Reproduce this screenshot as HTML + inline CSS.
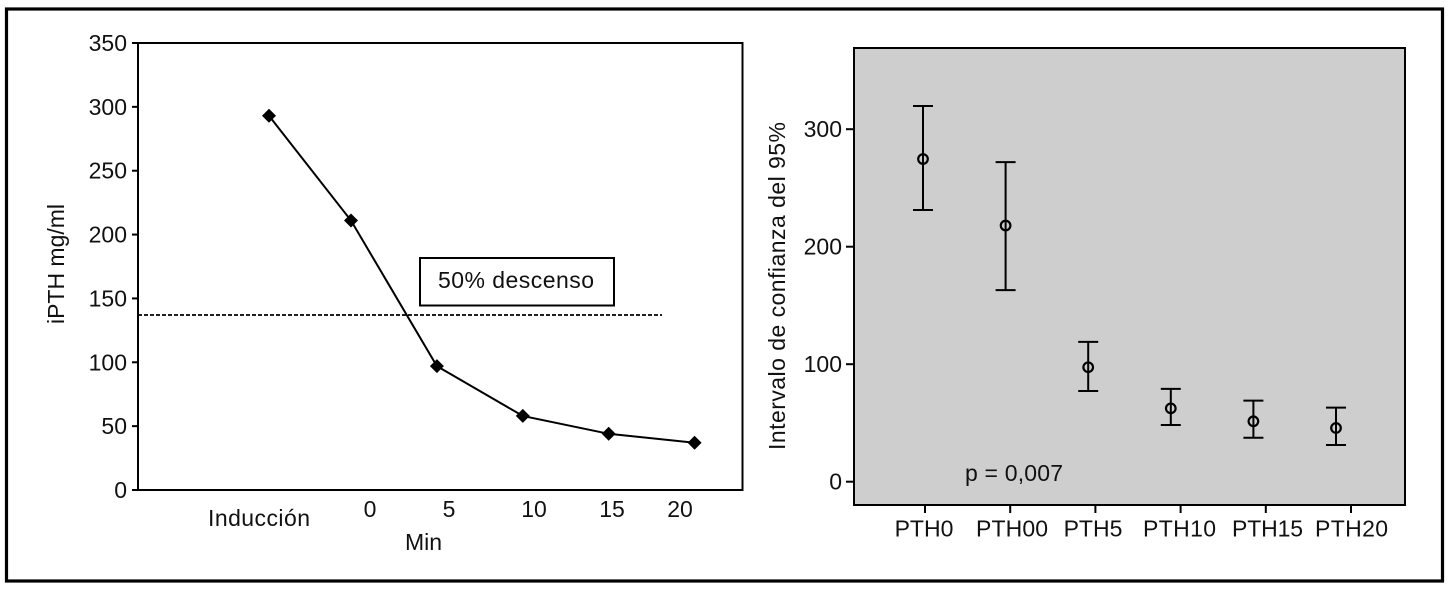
<!DOCTYPE html>
<html lang="es">
<head>
<meta charset="utf-8">
<title>iPTH</title>
<style>
html,body{margin:0;padding:0;background:#fff;width:1456px;height:591px;overflow:hidden}
svg{display:block;position:absolute;left:0;top:0}
text{font-family:"Liberation Sans",Arial,sans-serif;fill:#111;font-size:23px}
</style>
</head>
<body>
<svg id="figure" width="1456" height="591" viewBox="0 0 1456 591" xmlns="http://www.w3.org/2000/svg">
  <rect x="6.5" y="9" width="1436" height="572" fill="#fff" stroke="#000" stroke-width="3.2"/>

  <g id="left-chart">
    <rect x="138" y="43" width="604.5" height="447" fill="#fff" stroke="#000" stroke-width="2"/>
    <text transform="translate(64,324) rotate(-90)" textLength="120" lengthAdjust="spacing">iPTH mg/ml</text>
    <text x="208" y="526" textLength="102" lengthAdjust="spacing">Inducción</text>
    <text x="370" y="517" text-anchor="middle">0</text>
    <text x="449" y="517" text-anchor="middle">5</text>
    <text x="534" y="517" text-anchor="middle">10</text>
    <text x="612" y="517" text-anchor="middle">15</text>
    <text x="680" y="517" text-anchor="middle">20</text>
    <text x="405" y="550" textLength="37" lengthAdjust="spacing">Min</text>
    <rect x="420" y="258" width="194" height="47.5" fill="#fff" stroke="#000" stroke-width="2"/>
    <text x="438" y="288" textLength="156" lengthAdjust="spacing">50% descenso</text>
  </g>

  <g id="right-chart">
    <rect x="854" y="48" width="551" height="457" fill="#cecece" stroke="#000" stroke-width="2"/>
    <text transform="translate(785,450) rotate(-90)" textLength="328" lengthAdjust="spacing">Intervalo de confianza del 95%</text>
    <text x="965" y="481" textLength="98" lengthAdjust="spacing">p = 0,007</text>
    <text x="924" y="536.5" text-anchor="middle" font-size="23">PTH0</text>
    <text x="976" y="536.5" textLength="72" lengthAdjust="spacing">PTH00</text>
    <text x="1093" y="536.5" text-anchor="middle">PTH5</text>
    <text x="1143" y="536.5" textLength="73" lengthAdjust="spacing">PTH10</text>
    <text x="1232" y="536.5" textLength="71" lengthAdjust="spacing">PTH15</text>
    <text x="1315" y="536.5" textLength="73" lengthAdjust="spacing">PTH20</text>
  </g>
</svg>
<script>
const lineCategories = ['Inducción', '0', '5', '10', '15', '20'];
const lineValues = [293, 211, 97, 58, 44, 37];
const thresholdValue = 137;
const leftYTicks = [0, 50, 100, 150, 200, 250, 300, 350];

const ciCategories = ['PTH0', 'PTH00', 'PTH5', 'PTH10', 'PTH15', 'PTH20'];
const ciMeans = [274.6, 218, 97.4, 62.4, 51.4, 45.7];
const ciUpper = [319.7, 272, 119, 79, 69, 63];
const ciLower = [231.2, 163, 77.2, 48.3, 37.4, 31.2];
const rightYTicks = [0, 100, 200, 300];

const NS = 'http://www.w3.org/2000/svg';
const leftGroup = document.getElementById('left-chart');
const rightGroup = document.getElementById('right-chart');

function make(tag, parent, props) {
  const el = document.createElementNS(NS, tag);
  for (const k in props) el.setAttribute(k, props[k]);
  parent.appendChild(el);
  return el;
}

/* left chart axes */
function leftY(v) { return 490 - v * (447 / 350); }
function leftX(i) { return i === 0 ? 269 : 351 + (i - 1) * 85.9; }

/* right chart axes */
function rightY(v) { return 481.7 - v * 1.175; }
function rightX(i) { return 923 + i * 82.6; }
function rightTickX(i) { return 925 + i * 85.2; }

/* left y ticks */
leftYTicks.forEach(function (t) {
  const tick = make('line', leftGroup, {x1: 132, x2: 138, y1: leftY(t), y2: leftY(t), stroke: '#000', 'stroke-width': 2});
  
  
  const label = make('text', leftGroup, {x: 127, y: leftY(t) + 8, 'text-anchor': 'end'});
  
  
  label.textContent = String(t);
});

/* threshold line */
const threshold = make('line', leftGroup, {x1: 138, x2: 662, y1: leftY(thresholdValue), y2: leftY(thresholdValue), stroke: '#000', 'stroke-width': 1.8, 'stroke-dasharray': '4 2'});



/* series line */
const seriesLine = make('polyline', leftGroup, {
  points: lineValues.map(function (v, i) { return leftX(i) + ',' + leftY(v); }).join(' '),
  fill: 'none', stroke: '#000', 'stroke-width': 2
});



/* series markers */
lineValues.forEach(function (v, i) {
  const x = leftX(i), y = leftY(v), r = 7;
  const marker = make('polygon', leftGroup, {
    points: (x) + ',' + (y - r) + ' ' + (x + r) + ',' + y + ' ' + x + ',' + (y + r) + ' ' + (x - r) + ',' + y,
    fill: '#000'
  });
  
  
});

/* right y ticks */
rightYTicks.forEach(function (t) {
  const tick = make('line', rightGroup, {x1: 846, x2: 854, y1: rightY(t), y2: rightY(t), stroke: '#000', 'stroke-width': 2});
  
  
  const label = make('text', rightGroup, {x: 842, y: rightY(t) + 8, 'text-anchor': 'end'});
  
  
  label.textContent = String(t);
});

/* right x ticks */
ciCategories.forEach(function (c, i) {
  const x = rightTickX(i);
  const tick = make('line', rightGroup, {x1: x, x2: x, y1: 505, y2: 513, stroke: '#000', 'stroke-width': 2});
  
  
});

/* error bars */
ciMeans.forEach(function (m, i) {
  const x = rightX(i), yU = rightY(ciUpper[i]), yL = rightY(ciLower[i]);
  const stem = make('line', rightGroup, {x1: x, x2: x, y1: yU, y2: yL, stroke: '#000', 'stroke-width': 2});
  
  
  const capU = make('line', rightGroup, {x1: x - 10, x2: x + 10, y1: yU, y2: yU, stroke: '#000', 'stroke-width': 2});
  
  
  const capL = make('line', rightGroup, {x1: x - 10, x2: x + 10, y1: yL, y2: yL, stroke: '#000', 'stroke-width': 2});
  
  
  const mean = make('circle', rightGroup, {cx: x, cy: rightY(m), r: 4.8, fill: 'none', stroke: '#000', 'stroke-width': 2.2});
  
  
});
</script>
</body>
</html>
